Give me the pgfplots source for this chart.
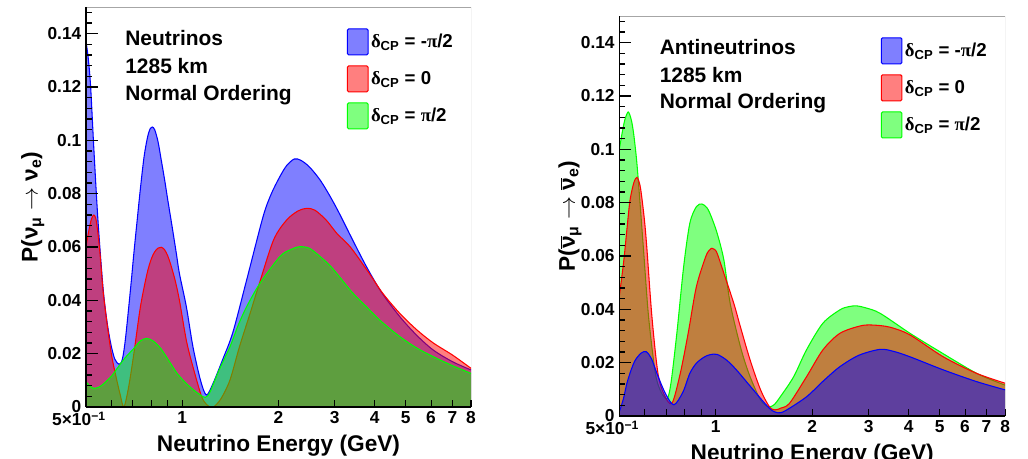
\documentclass[border=0pt]{standalone}
\usepackage{fontspec}
\setmainfont{Liberation Sans}
\newfontfamily\gr{Liberation Serif}
\usepackage{pgfplots}
\usepackage{pgfplotstable}
\pgfplotsset{compat=1.18}

% neutrinos
\pgfplotstableread{
E P
0.500 0.137
0.508 0.131
0.517 0.120
0.529 0.097
0.545 0.070
0.565 0.045
0.580 0.033
0.597 0.024
0.615 0.018
0.635 0.016
0.650 0.018
0.665 0.026
0.690 0.045
0.705 0.057
0.720 0.068
0.740 0.082
0.760 0.094
0.780 0.1015
0.795 0.1045
0.806 0.105
0.820 0.1040
0.840 0.0995
0.860 0.0925
0.880 0.0855
0.900 0.078
0.920 0.071
0.940 0.064
0.960 0.057
0.980 0.050
1.030 0.0376
1.080 0.0226
1.140 0.0101
1.190 0.0045
1.250 0.009
1.340 0.018
1.440 0.028
1.590 0.0476
1.790 0.0714
1.900 0.0800
2.020 0.0864
2.120 0.0905
2.240 0.0930
2.350 0.0925
2.500 0.0900
2.700 0.0851
2.900 0.0790
3.100 0.0726
3.400 0.0630
3.770 0.0526
4.200 0.0430
4.790 0.0339
5.400 0.0270
6.090 0.0214
7.000 0.0170
8.000 0.0139
}\nuBlue
\pgfplotstableread{
E P
0.500 0.060
0.510 0.066
0.520 0.0705
0.529 0.072
0.537 0.0705
0.545 0.065
0.553 0.0576
0.565 0.044
0.580 0.0326
0.600 0.020
0.619 0.0120
0.640 0.0045
0.657 0.0
0.680 0.0076
0.706 0.0201
0.740 0.0376
0.776 0.0500
0.800 0.0555
0.820 0.0582
0.840 0.0596
0.860 0.0599
0.880 0.0590
0.900 0.0568
0.920 0.0535
0.950 0.0475
0.980 0.040
1.030 0.025
1.080 0.0151
1.150 0.0039
1.200 0.0006
1.250 0.0
1.320 0.003
1.410 0.0101
1.510 0.0226
1.630 0.0351
1.730 0.0451
1.930 0.0626
2.120 0.0701
2.300 0.0735
2.450 0.0745
2.600 0.0738
2.820 0.0701
3.050 0.0650
3.350 0.0601
3.800 0.0510
4.240 0.0426
4.800 0.0350
5.420 0.0289
6.100 0.0240
7.000 0.0195
8.000 0.0145
}\nuRed
\pgfplotstableread{
E P
0.500 0.0095
0.515 0.0078
0.529 0.0070
0.550 0.0075
0.570 0.0089
0.600 0.0115
0.626 0.0145
0.660 0.0182
0.706 0.0220
0.740 0.0248
0.774 0.0257
0.810 0.0248
0.856 0.0220
0.910 0.0172
0.964 0.0126
1.030 0.0088
1.090 0.0062
1.140 0.0045
1.180 0.0036
1.220 0.0055
1.300 0.0135
1.410 0.0226
1.500 0.0310
1.590 0.0376
1.750 0.0464
2.020 0.0564
2.180 0.0590
2.330 0.0601
2.500 0.0595
2.700 0.0564
2.900 0.0530
3.100 0.0489
3.400 0.0430
3.770 0.0376
4.200 0.0320
4.790 0.0264
5.400 0.0222
6.090 0.0189
7.000 0.0155
8.000 0.0126
}\nuGreen

% antineutrinos
\pgfplotstableread{
E P
0.500 0.0016
0.515 0.0065
0.528 0.0123
0.545 0.0175
0.561 0.0210
0.585 0.0236
0.607 0.0241
0.630 0.0215
0.655 0.0160
0.696 0.0085
0.740 0.0042
0.790 0.0090
0.830 0.0160
0.870 0.0198
0.920 0.0221
0.960 0.0230
1.010 0.0231
1.080 0.0210
1.160 0.0173
1.310 0.0098
1.470 0.0029
1.560 0.0012
1.650 0.0020
1.920 0.0072
2.160 0.0130
2.440 0.0185
2.800 0.0228
3.260 0.0250
3.600 0.0242
4.040 0.0222
5.130 0.0173
6.520 0.0129
8.000 0.0098
}\anuBlue
\pgfplotstableread{
E P
0.500 0.045
0.516 0.058
0.530 0.072
0.540 0.081
0.555 0.0875
0.568 0.0895
0.580 0.0865
0.589 0.081
0.600 0.0725
0.610 0.0623
0.632 0.0372
0.660 0.0160
0.690 0.0080
0.730 0.0048
0.775 0.0160
0.820 0.0310
0.870 0.0485
0.930 0.0597
0.955 0.0622
0.973 0.0629
0.990 0.0625
1.010 0.0610
1.060 0.0535
1.140 0.0420
1.190 0.0340
1.280 0.0210
1.380 0.0098
1.470 0.0035
1.530 0.0023
1.600 0.0030
1.700 0.0048
1.920 0.0147
2.160 0.0248
2.440 0.0310
2.830 0.0338
3.100 0.0341
3.500 0.0333
4.040 0.0304
5.130 0.0222
6.520 0.0160
8.000 0.0123
}\anuRed
\pgfplotstableread{
E P
0.500 0.100
0.510 0.106
0.520 0.111
0.533 0.114
0.545 0.111
0.554 0.106
0.565 0.097
0.574 0.0873
0.595 0.0623
0.617 0.0372
0.648 0.0160
0.675 0.0090
0.705 0.0065
0.725 0.0125
0.756 0.0310
0.794 0.0560
0.830 0.0723
0.870 0.0785
0.905 0.0795
0.940 0.0780
0.970 0.0745
1.010 0.0685
1.060 0.0585
1.110 0.0420
1.200 0.0250
1.280 0.0147
1.380 0.0060
1.460 0.0035
1.520 0.0042
1.590 0.0072
1.750 0.0147
1.920 0.0248
2.160 0.0348
2.440 0.0398
2.600 0.0410
2.750 0.0413
2.950 0.0405
3.260 0.0385
4.040 0.0310
4.900 0.0248
6.520 0.0160
8.000 0.0116
}\anuGreen

\pgfplotsset{
  legend image code/.code={\draw[#1, rounded corners=1pt] (0pt,-9.75pt) rectangle (15.5pt,9.75pt);},
}
\pgfplotsset{
  oscax/.style={
    scale only axis, height=300pt,
    xmin=0.5, xmax=8, ymin=0, ymax=0.15,
    axis x line*=bottom, axis y line*=left,
    axis line style={-, line width=1.1pt},
    axis on top,
    xtick={0.5,0.6,0.7,0.8,0.9,1,2,3,4,5,6,7,8},
    xticklabels={{\hspace*{-10.5pt}5×10\textsuperscript{−1}},{},{},{},{},1,2,3,4,5,6,7,8},
    ytick={0,0.02,0.04,0.06,0.08,0.1,0.12,0.14},
    yticklabels={0,0.02,0.04,0.06,0.08,0.1,0.12,0.14},
    extra y ticks={0,0.02,0.04,0.06,0.08,0.1,0.12,0.14},
    extra y tick labels={},
    extra y tick style={major tick length=9pt},
    minor ytick={0.004,0.008,0.012,0.016,0.024,0.028,0.032,0.036,0.044,0.048,0.052,0.056,0.064,0.068,0.072,0.076,0.084,0.088,0.092,0.096,0.104,0.108,0.112,0.116,0.124,0.128,0.132,0.136,0.144,0.148},
    tick align=inside,
    major tick length=5.25pt, minor tick length=4.5pt,
    tick style={black, line width=0.8pt},
    ticklabel style={font=\fontsize{13}{15}\selectfont\bfseries},
    label style={font=\fontsize{17}{20}\selectfont\bfseries},
    xlabel={Neutrino Energy (GeV)},
    xlabel style={at={(axis description cs:0.5,-0.112)}, anchor=base},
    legend style={at={(axis description cs:0.677,0.9475)}, anchor=north west,
      draw=none, fill=none, inner sep=0pt, row sep=7.5pt,
      nodes={inner sep=1.8pt},
      font=\fontsize{14}{16}\selectfont\bfseries},
    legend cell align=left,
  },
  fillb/.style={draw=none, fill=blue, fill opacity=0.5, smooth, forget plot},
  fillr/.style={draw=none, fill=red, fill opacity=0.5, smooth, forget plot},
  fillg/.style={draw=none, fill=green, fill opacity=0.5, smooth, forget plot},
  curve/.style={draw=#1, line width=0.8pt, smooth, forget plot},
}
\tikzset{txt/.style={anchor=base west, font=\fontsize{15.7}{18}\selectfont\bfseries}}

\begin{document}
\begin{tikzpicture}
\useasboundingbox (0,0) rectangle (771pt,343.5pt);

\begin{axis}[xmode=log, oscax, width=288.75pt, at={(64.5pt,38.25pt)}, anchor=south west,
  ylabel={P(ν\textsubscript{μ} $\rightarrow$ ν\textsubscript{e})},
  ylabel style={at={(axis description cs:-0.138,0.5)}, anchor=center}]
\addlegendimage{fill=blue, fill opacity=0.5, draw=blue, line width=0.8pt}
\addlegendentry{{\gr δ}\textsubscript{CP} = -{\gr π}/2}
\addlegendimage{fill=red, fill opacity=0.5, draw=red, line width=0.8pt}
\addlegendentry{{\gr δ}\textsubscript{CP} = 0}
\addlegendimage{fill=green, fill opacity=0.5, draw=green, line width=0.8pt}
\addlegendentry{{\gr δ}\textsubscript{CP} = {\gr π}/2}
\addplot[fillb] table {\nuBlue} \closedcycle;
\addplot[curve=blue] table {\nuBlue};
\addplot[fillr] table {\nuRed} \closedcycle;
\addplot[curve=red] table {\nuRed};
\addplot[fillg] table {\nuGreen} \closedcycle;
\addplot[curve=green] table {\nuGreen};
\draw[gray!70, line width=0.6pt] (rel axis cs:0,1) -- (rel axis cs:1,1) -- (rel axis cs:1,0);
\node[txt] at (axis description cs:0.09,0.9045) {Neutrinos};
\node[txt] at (axis description cs:0.09,0.8345) {1285 km};
\node[txt] at (axis description cs:0.09,0.767) {Normal Ordering};
\end{axis}

\begin{axis}[xmode=log, oscax, width=289.3pt, at={(464.5pt,31.5pt)}, anchor=south west,
  ylabel={P($\overline{\mbox{ν}}$\textsubscript{μ} $\rightarrow$ $\overline{\mbox{ν}}$\textsubscript{e})},
  ylabel style={at={(axis description cs:-0.128,0.5)}, anchor=center}]
\addlegendimage{fill=blue, fill opacity=0.5, draw=blue, line width=0.8pt}
\addlegendentry{{\gr δ}\textsubscript{CP} = -{\gr π}/2}
\addlegendimage{fill=red, fill opacity=0.5, draw=red, line width=0.8pt}
\addlegendentry{{\gr δ}\textsubscript{CP} = 0}
\addlegendimage{fill=green, fill opacity=0.5, draw=green, line width=0.8pt}
\addlegendentry{{\gr δ}\textsubscript{CP} = {\gr π}/2}
\addplot[fillg] table {\anuGreen} \closedcycle;
\addplot[curve=green] table {\anuGreen};
\addplot[fillr] table {\anuRed} \closedcycle;
\addplot[curve=red] table {\anuRed};
\addplot[fillb] table {\anuBlue} \closedcycle;
\addplot[curve=blue] table {\anuBlue};
\draw[gray!70, line width=0.6pt] (rel axis cs:0,1) -- (rel axis cs:1,1) -- (rel axis cs:1,0);
\node[txt] at (axis description cs:0.0926,0.9045) {Antineutrinos};
\node[txt] at (axis description cs:0.0926,0.8345) {1285 km};
\node[txt] at (axis description cs:0.0926,0.7688) {Normal Ordering};
\end{axis}
\end{tikzpicture}
\end{document}
